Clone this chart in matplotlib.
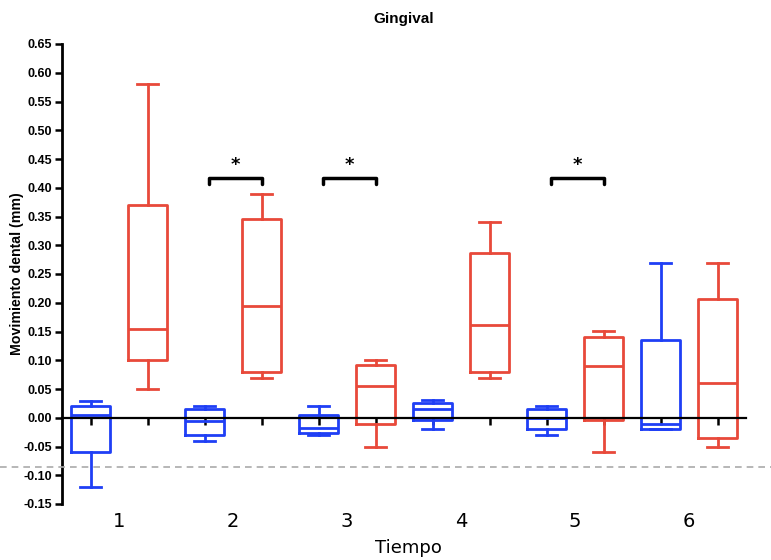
import matplotlib.pyplot as plt
from matplotlib.lines import Line2D

# box statistics (whislo, q1, median, q3, whishi)
blue_lo = [-0.12, -0.04, -0.03, -0.02, -0.03, -0.02]
blue_q1 = [-0.06, -0.03, -0.026, -0.004, -0.02, -0.02]
blue_med = [0.005, -0.005, -0.017, 0.016, 0.0, -0.01]
blue_q3 = [0.02, 0.015, 0.005, 0.025, 0.016, 0.135]
blue_hi = [0.03, 0.02, 0.02, 0.031, 0.02, 0.27]

red_lo = [0.05, 0.07, -0.05, 0.07, -0.06, -0.05]
red_q1 = [0.10, 0.08, -0.01, 0.08, -0.004, -0.035]
red_med = [0.155, 0.195, 0.056, 0.161, 0.09, 0.06]
red_q3 = [0.37, 0.345, 0.091, 0.286, 0.141, 0.206]
red_hi = [0.58, 0.39, 0.10, 0.341, 0.151, 0.27]

groups = ["1", "2", "3", "4", "5", "6"]
signif = [2, 3, 5]  # groups with a significance bracket
bracket_y = 0.417

blue = "#1f3ff5"
red = "#e8493a"
sans = "Liberation Sans"

fig = plt.figure(figsize=(7.71, 5.60), dpi=100)
ax = fig.add_axes([62 / 771, 56 / 560, 684 / 771, 460 / 560])


def stats(lo, q1, med, q3, hi):
    return [dict(whislo=a, q1=b, med=c, q3=d, whishi=e, fliers=[])
            for a, b, c, d, e in zip(lo, q1, med, q3, hi)]


blue_pos = [2 * i + 1 for i in range(len(groups))]
red_pos = [2 * i + 2 for i in range(len(groups))]

for st, pos, col in [(stats(blue_lo, blue_q1, blue_med, blue_q3, blue_hi), blue_pos, blue),
                     (stats(red_lo, red_q1, red_med, red_q3, red_hi), red_pos, red)]:
    lw = 2.0
    ax.bxp(st, positions=pos, widths=0.67, showfliers=False,
           boxprops=dict(color=col, linewidth=lw),
           medianprops=dict(color=col, linewidth=lw),
           whiskerprops=dict(color=col, linewidth=lw),
           capprops=dict(color=col, linewidth=lw),
           capwidths=0.37, manage_ticks=False)

# zero line with ticks at each box
ax.spines["bottom"].set_position(("data", 0))
ax.spines["bottom"].set_linewidth(1.6)
ax.spines["top"].set_visible(False)
ax.spines["right"].set_visible(False)
ax.spines["left"].set_linewidth(2)
ax.set_xticks(blue_pos + red_pos)
ax.set_xticklabels([])
ax.tick_params(axis="x", length=5, width=1.8, direction="out")

ax.set_xlim(0.5, 12.5)
ax.set_ylim(-0.15, 0.65)
ticks = [round(-0.15 + 0.05 * i, 2) for i in range(17)]
ax.set_yticks(ticks)
ax.set_yticklabels([f"{t:.2f}" for t in ticks], fontsize=9, fontweight="bold",
                   family=sans)
ax.tick_params(axis="y", length=5, width=1.8, pad=2)

for i, g in enumerate(groups):
    ax.text(2 * i + 1.5, -0.018, g, transform=ax.get_xaxis_transform(),
            ha="center", va="top", fontsize=14)

# significance brackets
for g in signif:
    x0, x1 = 2 * g - 1 + 0.08, 2 * g
    ax.plot([x0, x0, x1, x1], [bracket_y - 0.01, bracket_y, bracket_y, bracket_y - 0.01],
            color="black", lw=2.5, solid_capstyle="round", solid_joinstyle="round")
    ax.text((x0 + x1) / 2, bracket_y + 0.007, "*", ha="center", va="bottom",
            fontsize=13, fontweight="bold")

ax.set_ylabel("Movimiento dental (mm)", fontsize=10.2, fontweight="bold",
              family=sans, labelpad=0)
ax.set_title("Gingival", fontsize=11, fontweight="bold", family=sans, pad=15)
fig.text(408 / 771, 1 - 548 / 560, "Tiempo", ha="center", va="center", fontsize=13)

# dashed reference line across the figure
fig.add_artist(Line2D([0, 1], [1 - 467 / 560, 1 - 467 / 560], color="#aaaaaa",
                      lw=1.2, linestyle=(0, (4, 3)), transform=fig.transFigure))

fig.savefig("out.png", dpi=100)
